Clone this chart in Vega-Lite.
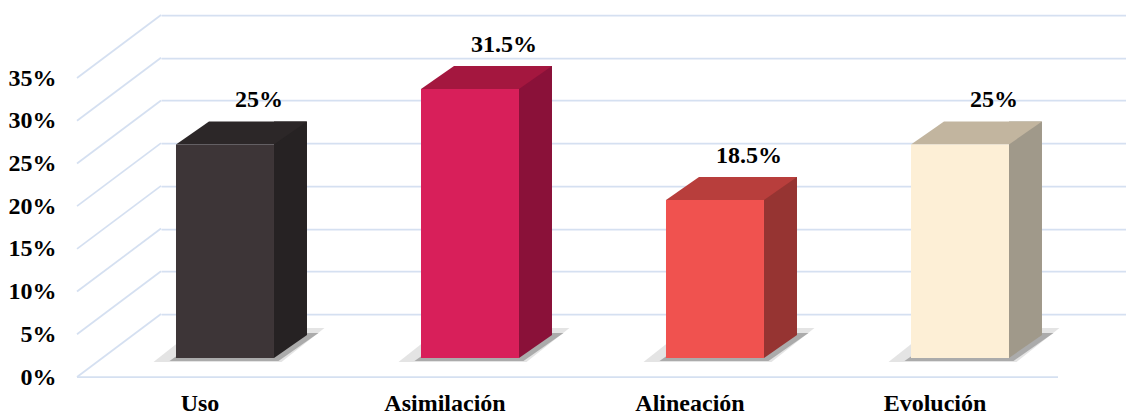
{
  "$schema": "https://vega.github.io/schema/vega-lite/v6.json",
  "width": 965,
  "height": 299,
  "autosize": {"type": "none"},
  "padding": {"left": 161, "top": 15, "right": 0, "bottom": 100},
  "background": "white",
  "config": {
    "view": {"stroke": null},
    "axis": {"labelFont": "Liberation Serif", "labelFontSize": 24, "labelFontWeight": "bold", "labelColor": "#000000", "title": null},
    "axisY": {"grid": true, "gridColor": "#d5e0f1", "gridWidth": 1.75, "domain": false, "ticks": false, "tickSize": 0, "labelPadding": 105, "labelOffset": 63},
    "axisX": {"grid": false, "domain": false, "ticks": false, "tickSize": 0, "labelAngle": 0, "labelPadding": 96, "labelBaseline": "alphabetic", "labelOffset": -25}
  },
  "datasets": {
    "bars": [
      {"cat": "Uso", "value": 0.25},
      {"cat": "Asimilación", "value": 0.315},
      {"cat": "Alineación", "value": 0.185},
      {"cat": "Evolución", "value": 0.25}
    ],
    "ticks": [
      {"t": 0}, {"t": 0.05}, {"t": 0.1}, {"t": 0.15}, {"t": 0.2}, {"t": 0.25}, {"t": 0.3}, {"t": 0.35}
    ]
  },
  "layer": [
    {
      "data": {"name": "ticks"},
      "mark": {"type": "rule", "color": "#d5e0f1", "strokeWidth": 1.75, "yOffset": 63, "y2Offset": 0},
      "encoding": {
        "x": {"value": -84},
        "x2": {"value": 0},
        "y": {
          "field": "t", "type": "quantitative",
          "scale": {"domain": [0, 0.35], "nice": false},
          "axis": {"values": [0, 0.05, 0.1, 0.15, 0.2, 0.25, 0.3, 0.35], "format": ".0%", "title": null}
        },
        "y2": {"field": "t"}
      }
    },
    {
      "data": {"values": [{}]},
      "mark": {"type": "rule", "color": "#d5e0f1", "strokeWidth": 1.75, "yOffset": 63},
      "encoding": {
        "x": {"value": -84},
        "x2": {"value": 897},
        "y": {"datum": 0, "type": "quantitative", "axis": {"values": [0, 0.05, 0.1, 0.15, 0.2, 0.25, 0.3, 0.35], "format": ".0%", "title": null}}
      }
    },
    {
      "data": {"name": "bars"},
      "mark": {"type": "point", "shape": "M -1 0.1988 L 0.497 0.1988 L 1 -0.1988 L -0.497 -0.1988 Z", "size": 29241, "filled": true, "opacity": 1, "strokeWidth": 0, "color": "#e4e4e4", "xOffset": 14, "yOffset": 31},
      "encoding": {
        "x": {
          "field": "cat", "type": "nominal", "sort": null,
          "scale": {"type": "band", "paddingInner": 0.6, "paddingOuter": 0.2694, "align": 0.1136},
          "axis": {"title": null}
        },
        "y": {"datum": 0, "type": "quantitative", "axis": {"values": [0, 0.05, 0.1, 0.15, 0.2, 0.25, 0.3, 0.35], "format": ".0%", "title": null}}
      }
    },
    {
      "data": {"name": "bars"},
      "mark": {"type": "point", "shape": "M -1 0.188 L 0.463 0.188 L 1 -0.188 L -0.463 -0.188 Z", "size": 22201, "filled": true, "opacity": 1, "strokeWidth": 0, "color": "#ababab", "xOffset": 19, "yOffset": 33},
      "encoding": {
        "x": {"field": "cat", "type": "nominal", "sort": null, "axis": {"title": null}},
        "y": {"datum": 0, "type": "quantitative", "axis": {"values": [0, 0.05, 0.1, 0.15, 0.2, 0.25, 0.3, 0.35], "format": ".0%", "title": null}}
      }
    },
    {
      "data": {"name": "bars"},
      "mark": {"type": "bar", "width": 33, "xOffset": 65.5, "yOffset": 21, "y2Offset": 21},
      "encoding": {
        "x": {"field": "cat", "type": "nominal", "sort": null, "axis": {"title": null}},
        "y": {"field": "value", "type": "quantitative", "axis": {"values": [0, 0.05, 0.1, 0.15, 0.2, 0.25, 0.3, 0.35], "format": ".0%", "title": null}},
        "y2": {"datum": 0},
        "color": {
          "field": "cat", "type": "nominal", "sort": null, "legend": null,
          "scale": {"domain": ["Uso", "Asimilación", "Alineación", "Evolución"], "range": ["#262223", "#8a1139", "#963432", "#a0998a"]}
        }
      }
    },
    {
      "data": {"name": "bars"},
      "mark": {"type": "point", "shape": "M -1 -0.697 L -1 0.697 L 1 -0.697 Z", "size": 1089, "filled": true, "opacity": 1, "strokeWidth": 0, "xOffset": 65.5, "yOffset": 32.5},
      "encoding": {
        "x": {"field": "cat", "type": "nominal", "sort": null, "axis": {"title": null}},
        "y": {"datum": 0, "type": "quantitative", "axis": {"values": [0, 0.05, 0.1, 0.15, 0.2, 0.25, 0.3, 0.35], "format": ".0%", "title": null}},
        "color": {
          "field": "cat", "type": "nominal", "sort": null, "legend": null,
          "scale": {"domain": ["Uso", "Asimilación", "Alineación", "Evolución"], "range": ["#262223", "#8a1139", "#963432", "#a0998a"]}
        }
      }
    },
    {
      "data": {"name": "bars"},
      "mark": {"type": "point", "shape": "M -1 0.1756 L 0.4962 0.1756 L 1 -0.1756 L -0.4962 -0.1756 Z", "size": 17161, "filled": true, "opacity": 1, "strokeWidth": 0, "xOffset": 16.5, "yOffset": 32.5},
      "encoding": {
        "x": {"field": "cat", "type": "nominal", "sort": null, "axis": {"title": null}},
        "y": {"field": "value", "type": "quantitative", "axis": {"values": [0, 0.05, 0.1, 0.15, 0.2, 0.25, 0.3, 0.35], "format": ".0%", "title": null}},
        "color": {
          "field": "cat", "type": "nominal", "sort": null, "legend": null,
          "scale": {"domain": ["Uso", "Asimilación", "Alineación", "Evolución"], "range": ["#2c2728", "#a4173f", "#b83e3c", "#c2b59f"]}
        }
      }
    },
    {
      "data": {"name": "bars"},
      "mark": {"type": "bar", "yOffset": 44, "y2Offset": 44},
      "encoding": {
        "x": {"field": "cat", "type": "nominal", "sort": null, "axis": {"title": null}},
        "y": {"field": "value", "type": "quantitative", "axis": {"values": [0, 0.05, 0.1, 0.15, 0.2, 0.25, 0.3, 0.35], "format": ".0%", "title": null}},
        "y2": {"datum": 0},
        "color": {
          "field": "cat", "type": "nominal", "sort": null, "legend": null,
          "scale": {"domain": ["Uso", "Asimilación", "Alineación", "Evolución"], "range": ["#3d3537", "#d81f5a", "#f0524f", "#fdefd6"]}
        }
      }
    },
    {
      "data": {"name": "bars"},
      "mark": {"type": "text", "font": "Liberation Serif", "fontSize": 24, "fontWeight": "bold", "color": "#000000", "baseline": "alphabetic", "align": "center", "xOffset": 34, "yOffset": 7},
      "encoding": {
        "x": {"field": "cat", "type": "nominal", "sort": null, "axis": {"title": null}},
        "y": {"field": "value", "type": "quantitative", "axis": {"values": [0, 0.05, 0.1, 0.15, 0.2, 0.25, 0.3, 0.35], "format": ".0%", "title": null}},
        "text": {"field": "value", "type": "quantitative", "format": ".1~%"}
      }
    }
  ],
  "resolve": {"scale": {"color": "independent"}}
}
